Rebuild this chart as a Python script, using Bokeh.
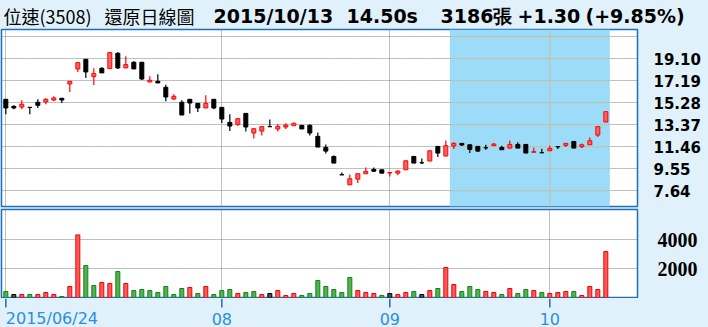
import numpy as np
from bokeh.plotting import figure
from bokeh.layouts import column
from bokeh.models import (Range1d, LinearAxis, FixedTicker, Grid, BoxAnnotation,
                          PrintfTickFormatter, Label, ColumnDataSource)
from bokeh.embed import file_html
from bokeh.resources import INLINE

# ---------------- data ----------------
stock_name = "位速(3508)"
chart_kind = "還原日線圖"
last_date = "2015/10/13"

opens = [15.57, 14.96, 14.90, 14.87, 15.31, 15.34, 15.51, 15.66, 16.90, 18.20,
         19.04, 17.54, 18.26, 18.23, 19.56, 18.29, 18.78, 18.78, 17.07, 17.13,
         16.61, 15.60, 15.31, 15.57, 15.22, 14.82, 15.57, 14.87, 13.57, 13.40,
         14.35, 12.65, 12.82, 13.20, 13.00, 13.17, 13.28, 13.31, 13.31, 12.36,
         11.40, 10.62, 9.03, 8.16, 8.65, 9.12, 9.49, 9.46, 9.18, 9.17,
         9.46, 10.62, 10.07, 10.22, 11.49, 10.65, 11.52, 11.75, 11.63, 11.49,
         11.37, 11.55, 11.40, 11.34, 11.66, 11.66, 10.98, 10.94, 11.11, 11.46,
         11.58, 11.92, 11.46, 11.63, 12.47, 13.60]
highs = [15.57, 15.05, 15.48, 14.87, 15.57, 15.66, 15.83, 15.66, 17.13, 18.75,
         19.04, 18.26, 18.35, 19.62, 19.65, 19.30, 18.87, 18.78, 17.57, 17.74,
         16.84, 16.00, 15.48, 15.57, 15.22, 15.92, 15.57, 14.87, 14.27, 13.89,
         14.35, 13.02, 13.20, 13.83, 13.43, 13.49, 13.57, 13.31, 13.40, 12.70,
         11.66, 10.71, 9.23, 9.06, 9.12, 9.67, 9.67, 9.46, 9.23, 9.43,
         10.24, 10.62, 10.45, 11.11, 11.49, 12.01, 11.84, 11.75, 11.63, 11.49,
         11.63, 11.78, 11.55, 12.01, 11.84, 11.66, 11.37, 11.28, 11.55, 11.46,
         11.75, 11.92, 11.75, 12.27, 13.20, 14.50]
lows = [14.27, 14.70, 14.70, 14.27, 14.82, 15.14, 15.40, 15.25, 16.21, 17.94,
        17.42, 16.81, 17.86, 18.23, 18.20, 18.29, 18.20, 17.25, 17.07, 16.99,
        15.40, 15.51, 14.21, 14.35, 14.47, 14.82, 14.70, 13.51, 12.82, 13.25,
        12.79, 12.18, 12.44, 13.20, 12.79, 13.00, 13.28, 13.00, 12.44, 11.43,
        10.88, 10.04, 9.03, 8.16, 8.31, 9.12, 9.26, 9.17, 8.88, 8.99,
        9.46, 10.04, 9.96, 10.22, 10.56, 10.65, 11.26, 11.52, 10.91, 11.00,
        11.20, 11.55, 11.20, 11.28, 11.34, 10.91, 10.98, 10.94, 11.11, 11.26,
        11.43, 11.34, 11.34, 11.63, 12.30, 13.60]
closes = [14.82, 14.82, 15.14, 14.87, 15.05, 15.57, 15.69, 15.51, 17.13, 18.75,
          17.94, 17.80, 17.86, 19.62, 18.29, 18.58, 18.20, 17.33, 17.22, 16.99,
          15.77, 15.83, 14.21, 15.25, 14.82, 15.22, 14.82, 13.86, 13.25, 13.89,
          13.17, 13.02, 13.20, 13.20, 13.23, 13.34, 13.49, 13.00, 12.65, 11.43,
          11.08, 10.04, 9.03, 8.68, 9.12, 9.32, 9.34, 9.17, 9.23, 9.35,
          10.24, 10.04, 10.07, 11.11, 10.91, 11.55, 11.75, 11.61, 11.23, 11.08,
          11.37, 11.69, 11.20, 11.66, 11.34, 10.91, 11.03, 10.94, 11.31, 11.46,
          11.75, 11.34, 11.63, 11.98, 13.20, 14.50]
volumes = [416, 208, 208, 208, 208, 347, 208, 69, 763, 4347,
           2220, 832, 1040, 971, 1803, 971, 486, 555, 486, 347,
           763, 208, 624, 694, 277, 763, 208, 486, 555, 277,
           347, 416, 208, 277, 486, 139, 277, 139, 277, 1179,
           763, 555, 347, 1387, 486, 347, 277, 139, 277, 208,
           347, 416, 208, 486, 624, 2081, 902, 416, 763, 555,
           416, 347, 208, 624, 277, 555, 486, 347, 277, 347,
           416, 416, 139, 763, 555, 3186]
# change versus previous close: 1 up, -1 down, 0 unchanged
vol_dir = [-1, 0, 1, -1, 1, 1, 1, -1, 1, 1,
           -1, -1, 1, 1, -1, 1, -1, -1, -1, -1,
           -1, -1, -1, 1, -1, 1, -1, -1, -1, 1,
           -1, -1, 1, 0, 1, 1, 1, -1, -1, -1,
           -1, -1, -1, -1, 1, 1, 1, -1, 0, 1,
           1, -1, 0, 1, -1, 1, 1, -1, -1, -1,
           1, 1, -1, 1, -1, -1, 1, -1, 1, 1,
           1, -1, 1, 1, 1, 1]
price_ticks = [7.64, 9.55, 11.46, 13.37, 15.28, 17.19, 19.10]
price_grid_extra = [21.01]
vol_ticks = [2000, 4000]
date_ticks = [0, 27, 48, 68]
date_labels = ["2015/06/24", "08", "09", "10"]
highlight_days = 20

# ---------------- styles ----------------
BG = "#e0f1fb"
FRAME = "#1d6fb6"
GRID = "#808080"
ORANGE = "#f0a050"
SHADE = "#9ddcf8"
UP_LINE, UP_FILL = "#ff0000", "#ff6464"
DN_LINE, DN_FILL = "#000000", "#000000"
DATE_COLOR = "#2a8fdc"

n = len(closes)
idx = np.arange(n)
o = np.array(opens); c = np.array(closes); h = np.array(highs); l = np.array(lows)
up = c > o
chg = closes[-1] - closes[-2]
pct = chg / closes[-2] * 100

x_start = -0.54
xr = Range1d(x_start, x_start + 636 / 8.0)
hl_left = n - highlight_days - 0.5
hl_right = n - 0.5


def strip(fig):
    fig.background_fill_color = BG
    fig.border_fill_color = BG
    fig.outline_line_color = None
    return fig


# ---------------- title strip ----------------
tf = strip(figure(frame_width=708, frame_height=28, x_range=Range1d(0, 708),
                  y_range=Range1d(0, 28), x_axis_type=None, y_axis_type=None,
                  toolbar_location=None, output_backend="svg", min_border=0))
title_parts = [
    (2, stock_name, "Noto Sans CJK TC", "normal", "18px"),
    (103, chart_kind, "Noto Sans CJK TC", "normal", "18px"),
    (212, last_date, "DejaVu Sans", "bold", "19px"),
    (345, f"{closes[-1]:.2f}s", "DejaVu Sans", "bold", "19px"),
    (439, f"{volumes[-1]}張", "DejaVu Sans", "bold", "19px"),
    (516, f"{chg:+.2f}", "DejaVu Sans", "bold", "19px"),
    (584, f"({pct:+.2f}%)", "DejaVu Sans", "bold", "19px"),
]
for tx, tt, fnt, sty, sz in title_parts:
    tf.add_layout(Label(x=tx, y=13, text=tt, text_font=fnt, text_font_style=sty,
                        text_font_size=sz, text_color="black",
                        text_align="left", text_baseline="middle"))

# ---------------- price panel ----------------
ylo, yhi = 6.28, 21.62
p = figure(frame_width=636, frame_height=177, x_range=xr, y_range=Range1d(ylo, yhi),
           x_axis_type=None, y_axis_type=None, toolbar_location=None,
           output_backend="svg", min_border_left=1, min_border_right=71,
           min_border_top=1, min_border_bottom=2, background_fill_color="white",
           border_fill_color=BG, outline_line_color=FRAME, outline_line_width=1.5)
pax = LinearAxis(ticker=FixedTicker(ticks=price_ticks),
                 formatter=PrintfTickFormatter(format="%.2f"),
                 major_tick_out=0, major_tick_in=0, minor_tick_out=0, minor_tick_in=0,
                 axis_line_color=None, major_label_standoff=16,
                 major_label_text_font="DejaVu Sans", major_label_text_font_style="bold",
                 major_label_text_font_size="15px", major_label_text_color="black")
p.add_layout(pax, "right")
p.add_layout(Grid(dimension=1, ticker=FixedTicker(ticks=price_ticks + price_grid_extra),
                  grid_line_color=GRID, grid_line_dash="1 1", grid_line_width=1))
p.add_layout(Grid(dimension=0, ticker=FixedTicker(ticks=date_ticks),
                  grid_line_color=GRID, grid_line_dash="1 1", grid_line_width=1))
p.add_layout(BoxAnnotation(left=hl_left, right=hl_right, fill_color=SHADE, fill_alpha=1.0,
                           line_color=None, level="underlay"))
glev = price_ticks + price_grid_extra
p.segment(x0=[hl_left] * len(glev), x1=[hl_right] * len(glev), y0=glev, y1=glev,
          line_color=ORANGE, line_dash="1 1", line_width=1)
vin = [t for t in date_ticks if hl_left < t < hl_right]
p.segment(x0=vin, x1=vin, y0=[ylo] * len(vin), y1=[yhi] * len(vin),
          line_color=ORANGE, line_dash="1 1", line_width=1)

csrc = ColumnDataSource(dict(
    x=idx, high=h, low=l, top=np.maximum(o, c), bottom=np.minimum(o, c),
    line=[UP_LINE if u else DN_LINE for u in up],
    fill=[UP_FILL if u else DN_FILL for u in up]))
p.segment(x0="x", y0="high", x1="x", y1="low", line_color="line", line_width=1.2, source=csrc)
p.vbar(x="x", top="top", bottom="bottom", width=0.5, fill_color="fill",
       line_color="line", line_width=1, source=csrc)

# ---------------- volume panel ----------------
vcol_line = {1: "#ee0000", -1: "#0f870f", 0: "#000000"}
vcol_fill = {1: "#ff5a5a", -1: "#55b055", 0: "#505050"}
v = figure(frame_width=636, frame_height=88, x_range=xr, y_range=Range1d(0, 6110),
           x_axis_type=None, y_axis_type=None, toolbar_location=None,
           output_backend="svg", min_border_left=1, min_border_right=71,
           min_border_top=1, min_border_bottom=1, background_fill_color="white",
           border_fill_color=BG, outline_line_color=FRAME, outline_line_width=1.5)
vax = LinearAxis(ticker=FixedTicker(ticks=vol_ticks),
                 formatter=PrintfTickFormatter(format="%d"),
                 major_tick_out=0, major_tick_in=0, minor_tick_out=0, minor_tick_in=0,
                 axis_line_color=None, major_label_standoff=20,
                 major_label_text_font="Liberation Serif", major_label_text_font_style="bold",
                 major_label_text_font_size="20px", major_label_text_color="black")
v.add_layout(vax, "right")
v.add_layout(Grid(dimension=1, ticker=FixedTicker(ticks=vol_ticks),
                  grid_line_color=GRID, grid_line_dash="1 1", grid_line_width=1))
v.add_layout(Grid(dimension=0, ticker=FixedTicker(ticks=date_ticks),
                  grid_line_color=GRID, grid_line_dash="1 1", grid_line_width=1))
vsrc = ColumnDataSource(dict(x=idx, vol=volumes,
                             line=[vcol_line[d] for d in vol_dir],
                             fill=[vcol_fill[d] for d in vol_dir]))
v.vbar(x="x", top="vol", bottom=0, width=0.5, fill_color="fill", line_color="line",
       line_width=1, source=vsrc)

# ---------------- date strip (shares the x scale) ----------------
fd = strip(figure(frame_width=636, frame_height=29, x_range=xr, y_range=Range1d(0, 29),
                  x_axis_type=None, y_axis_type=None, toolbar_location=None,
                  output_backend="svg", min_border_left=1, min_border_right=71,
                  min_border_top=0, min_border_bottom=0))
fd.segment(x0=date_ticks, x1=date_ticks, y0=[29] * len(date_ticks), y1=[20] * len(date_ticks),
           line_color=FRAME, line_width=1.5)
for i, (t, lab) in enumerate(zip(date_ticks, date_labels)):
    fd.add_layout(Label(x=t, y=9, text=lab, text_font="DejaVu Sans", text_font_size="16px",
                        text_color=DATE_COLOR, text_align="left" if i == 0 else "center",
                        text_baseline="middle"))

layout = column(tf, p, v, fd, spacing=0, styles={"background-color": BG})
open("out.html", "w").write(file_html(layout, INLINE))
